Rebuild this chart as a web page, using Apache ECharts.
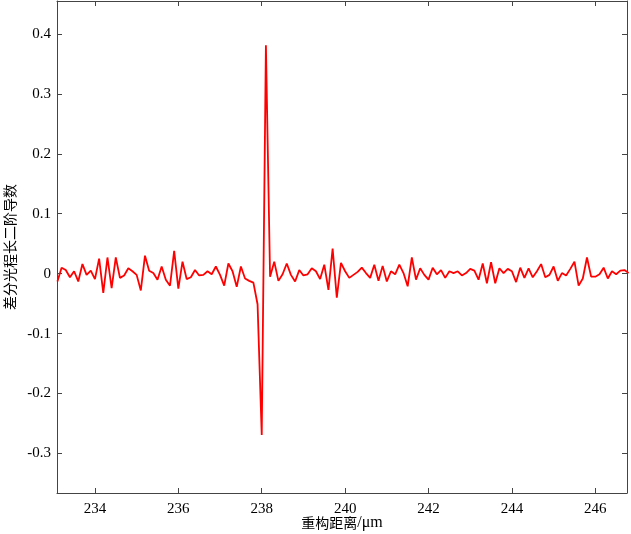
<!DOCTYPE html>
<html>
<head>
<meta charset="utf-8">
<script src="https://cdn.jsdelivr.net/npm/echarts@6/dist/echarts.min.js"></script>
<style>html,body{margin:0;padding:0;background:#fff}#c{width:631px;height:534px}</style>
</head>
<body>
<div id="c"></div>
<script>
const distances = [
233.1,233.2,233.3,233.4,233.5,233.6,233.7,233.8,233.9,234.0,
234.1,234.2,234.3,234.4,234.5,234.6,234.7,234.8,234.9,235.0,
235.1,235.2,235.3,235.4,235.5,235.6,235.7,235.8,235.9,236.0,
236.1,236.2,236.3,236.4,236.5,236.6,236.7,236.8,236.9,237.0,
237.1,237.2,237.3,237.4,237.5,237.6,237.7,237.8,237.9,238.0,
238.1,238.2,238.3,238.4,238.5,238.6,238.7,238.8,238.9,239.0,
239.1,239.2,239.3,239.4,239.5,239.6,239.7,239.8,239.9,240.0,
240.1,240.2,240.3,240.4,240.5,240.6,240.7,240.8,240.9,241.0,
241.1,241.2,241.3,241.4,241.5,241.6,241.7,241.8,241.9,242.0,
242.1,242.2,242.3,242.4,242.5,242.6,242.7,242.8,242.9,243.0,
243.1,243.2,243.3,243.4,243.5,243.6,243.7,243.8,243.9,244.0,
244.1,244.2,244.3,244.4,244.5,244.6,244.7,244.8,244.9,245.0,
245.1,245.2,245.3,245.4,245.5,245.6,245.7,245.8,245.9,246.0,
246.1,246.2,246.3,246.4,246.5,246.6,246.7,246.8
];
const derivative2 = [
-0.013,0.010,0.006,-0.006,0.004,-0.013,0.016,-0.002,0.005,-0.009,
0.025,-0.032,0.027,-0.024,0.027,-0.007,-0.003,0.009,0.004,-0.002,
-0.028,0.030,0.005,0.001,-0.010,0.012,-0.010,-0.020,0.038,-0.025,
0.020,-0.009,-0.006,0.006,-0.003,-0.002,0.004,-0.001,0.012,-0.002,
-0.020,0.017,0.004,-0.022,0.012,-0.008,-0.012,-0.015,-0.051,-0.269,
0.381,-0.005,0.020,-0.012,-0.001,0.017,-0.002,-0.013,0.006,-0.003,
-0.001,0.009,0.004,-0.009,0.015,-0.027,0.042,-0.040,0.018,0.004,
-0.007,-0.002,0.003,0.010,0.001,-0.007,0.015,-0.012,0.013,-0.013,
0.004,-0.001,0.015,0.001,-0.021,0.027,-0.010,0.009,-0.002,-0.010,
0.010,-0.001,0.006,-0.007,0.004,0.001,0.004,-0.003,0.001,0.008,
0.005,-0.010,0.017,-0.016,0.019,-0.016,0.009,0.001,0.008,0.004,
-0.014,0.010,-0.007,0.009,-0.006,0.004,0.016,-0.006,-0.002,0.012,
-0.012,0.001,-0.003,0.008,0.020,-0.020,-0.008,0.027,-0.005,-0.005,
-0.001,0.010,-0.008,0.004,-0.001,0.005,0.006,0.001
];
const xTicks = [234,236,238,240,242,244,246];
const yTicks = [-0.3,-0.2,-0.1,0,0.1,0.2,0.3,0.4];
const xTitleMain = '重构距离';
const xTitleUnit = '/μm';
const yTitle = '差分光程长二阶导数';

const chart = echarts.init(document.getElementById('c'), null, {renderer:'canvas'});
const axisColor = '#444';
const serif = '"Liberation Serif","Times New Roman",serif';
const cjk = '"Noto Sans CJK SC",sans-serif';
const axisLine = {show:true,onZero:false,lineStyle:{color:axisColor,width:1}};
const tick = (vals)=>({show:true,inside:true,length:5,customValues:vals,lineStyle:{color:axisColor}});
const xMin = 233.09, xMax = 246.76, yMin = -0.366, yMax = 0.455;
chart.setOption({
  animation:false,
  grid:{left:57,right:4,top:1,bottom:41,containLabel:false,outerBoundsMode:'none'},
  xAxis:[
    {type:'value',position:'bottom',min:xMin,max:xMax,
     axisLine:axisLine,axisTick:tick(xTicks),splitLine:{show:false},
     axisLabel:{customValues:xTicks,color:'#000',fontFamily:serif,fontSize:15,margin:9,formatter:v=>String(v)},
     name:'{a|'+xTitleMain+'}{b|'+xTitleUnit+'}',nameLocation:'middle',nameGap:22,nameMoveOverlap:false,
     nameTextStyle:{color:'#000',fontFamily:cjk,fontSize:14,
       rich:{a:{fontFamily:cjk,fontSize:14,color:'#000'},b:{fontFamily:serif,fontSize:16,color:'#000'}}}},
    {type:'value',position:'top',min:xMin,max:xMax,
     axisLine:axisLine,axisTick:tick(xTicks),splitLine:{show:false},
     axisLabel:{show:false}}
  ],
  yAxis:[
    {type:'value',position:'left',min:yMin,max:yMax,
     axisLine:axisLine,axisTick:tick(yTicks),splitLine:{show:false},
     axisLabel:{customValues:yTicks,color:'#000',fontFamily:serif,fontSize:15,margin:6,
       formatter:v=>String(Math.round(v*10)/10)},
     name:yTitle,nameLocation:'middle',nameGap:40,nameRotate:90,nameMoveOverlap:false,
     nameTextStyle:{color:'#000',fontFamily:cjk,fontSize:14}},
    {type:'value',position:'right',min:yMin,max:yMax,
     axisLine:axisLine,axisTick:tick(yTicks),splitLine:{show:false},
     axisLabel:{show:false}}
  ],
  series:[{
    type:'line',xAxisIndex:0,yAxisIndex:0,
    data:distances.map((d,i)=>[d,derivative2[i]]),
    showSymbol:false,symbol:'none',
    lineStyle:{color:'#ff0000',width:1.8},
    clip:true
  }]
});
</script>
</body>
</html>
